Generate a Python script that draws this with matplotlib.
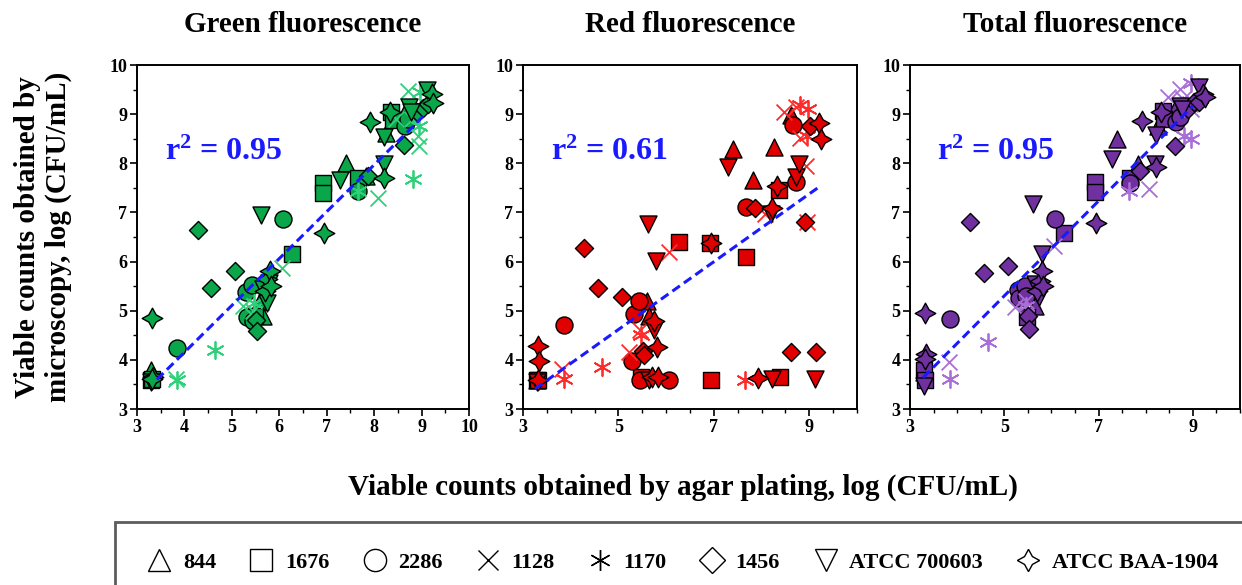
import matplotlib
matplotlib.use("Agg")
import matplotlib.pyplot as plt
from matplotlib.lines import Line2D
from matplotlib.ticker import MultipleLocator, FixedLocator
import numpy as np

plt.rcParams['font.family'] = ['Liberation Serif', 'DejaVu Serif']
plt.rcParams['font.weight'] = 'bold'
plt.rcParams['mathtext.fontset'] = 'custom'
plt.rcParams['mathtext.rm'] = 'Liberation Serif:bold'
plt.rcParams['mathtext.bf'] = 'Liberation Serif:bold'
plt.rcParams['mathtext.it'] = 'Liberation Serif:bold'

# ---------------- data ----------------
strain_labels = ['844', '1676', '2286', '1128', '1170', '1456', 'ATCC 700603', 'ATCC BAA-1904']

# strain 844
x_844 = [3.30, 5.60, 5.65, 7.40, 7.83, 8.25, 8.62]
g_844 = [3.80, 5.20, 4.90, 8.00, 7.75, 8.62, 9.00]
r_844 = [3.60, 5.19, 4.90, 8.30, 7.65, 8.33, 8.98]
t_844 = [3.75, 5.40, 5.10, 8.49, 7.98, 8.75, 9.10]

# strain 1676
x_1676 = [3.30, 3.32, 5.48, 6.27, 6.92, 6.93, 7.67, 8.36, 8.39]
g_1676 = [3.60, 3.62, 4.90, 6.15, 7.60, 7.39, 7.70, 9.05, 8.88]
r_1676 = [3.58, 3.60, 3.65, 6.40, 6.38, 3.58, 6.10, 7.46, 3.66]
t_1676 = [3.80, 3.60, 4.88, 6.59, 7.61, 7.41, 7.71, 9.07, 8.90]

# strain 2286
x_2286 = [3.85, 5.29, 5.32, 5.43, 5.45, 6.07, 7.67, 8.65, 8.72]
g_2286 = [4.25, 5.39, 4.88, 5.53, 4.80, 6.86, 7.43, 8.76, 8.90]
r_2286 = [4.70, 3.97, 4.94, 5.19, 3.58, 3.58, 7.11, 8.78, 7.61]
t_2286 = [4.83, 5.42, 5.25, 5.50, 5.30, 6.87, 7.60, 8.85, 8.95]

# strain 1128
x_1128 = [3.82, 5.23, 5.45, 6.05, 8.08, 8.47, 8.72, 8.80, 8.93, 8.95]
g_1128 = [3.62, 5.09, 5.00, 5.87, 7.29, 8.90, 9.48, 8.90, 8.55, 8.35]
r_1128 = [3.81, 4.15, 4.60, 6.19, 6.97, 9.04, 9.14, 8.52, 7.95, 6.80]
t_1128 = [3.96, 5.07, 5.20, 6.32, 7.48, 9.34, 9.51, 9.30, 9.20, 9.10]

# strain 1170
x_1170 = [3.85, 4.65, 5.47, 7.65, 8.81, 8.95, 8.97]
g_1170 = [3.59, 4.21, 5.15, 7.44, 7.68, 8.75, 9.45]
r_1170 = [3.62, 3.86, 4.50, 3.58, 9.18, 8.55, 9.10]
t_1170 = [3.62, 4.37, 5.10, 7.44, 8.56, 8.49, 9.63]

# strain 1456
x_1456 = [4.28, 4.57, 5.07, 5.51, 5.53, 7.87, 8.62, 8.90, 9.02, 9.14]
g_1456 = [6.65, 5.46, 5.80, 4.82, 4.58, 7.74, 8.37, 9.05, 9.12, 9.20]
r_1456 = [6.28, 5.47, 5.28, 4.19, 4.09, 7.10, 4.17, 6.80, 8.75, 4.17]
t_1456 = [6.81, 5.76, 5.92, 4.90, 4.63, 7.85, 8.36, 9.10, 9.24, 9.25]

# strain ATCC 700603
x_700603 = [3.30, 5.61, 5.65, 5.74, 5.79, 7.29, 8.20, 8.21, 8.73, 8.78, 9.12]
g_700603 = [3.55, 6.95, 5.45, 5.15, 5.56, 7.66, 7.98, 8.54, 9.15, 9.05, 9.50]
r_700603 = [3.55, 6.77, 3.60, 4.60, 6.01, 7.93, 6.97, 3.61, 7.72, 7.99, 3.61]
t_700603 = [3.47, 7.17, 5.55, 5.27, 6.15, 8.09, 7.98, 8.58, 9.17, 9.10, 9.55]

# strain ATCC BAA-1904
x_baa = [3.32, 3.33, 3.31, 5.70, 5.75, 5.80, 5.82, 6.94, 7.92, 8.21, 8.33, 9.21, 9.25]
g_baa = [4.85, 3.65, 3.62, 5.40, 5.65, 5.80, 5.50, 6.58, 8.85, 7.70, 9.05, 9.40, 9.22]
r_baa = [4.29, 3.97, 3.58, 3.65, 4.80, 4.27, 3.65, 6.38, 3.63, 7.08, 7.53, 8.82, 8.50]
t_baa = [4.95, 4.12, 4.02, 5.41, 5.60, 5.81, 5.50, 6.78, 8.87, 7.92, 9.04, 9.41, 9.35]

panel_titles = ['Green fluorescence', 'Red fluorescence', 'Total fluorescence']
r2_values = ['0.95', '0.61', '0.95']
fit_slope = [0.954, 0.690, 0.966]
fit_intercept = [0.337, 1.167, 0.472]
fit_xmin = [3.42, 3.25, 3.28]
fit_xmax = [9.03, 9.25, 9.00]
x_ticks = [[3, 4, 5, 6, 7, 8, 9, 10], [3, 5, 7, 9], [3, 5, 7, 9]]
y_ticks = [3, 4, 5, 6, 7, 8, 9, 10]

# ---------------- styling ----------------
fill_colors = ['#0aa64a', '#e00000', '#7030a0']
line_colors = ['#2fd07a', '#ff2a2a', '#a86fd6']

markers = ['^', 's', 'o', 'x', (6, 2, 0), 'D', 'v', (4, 1, 0)]
msizes = [150, 130, 150, 130, 150, 85, 150, 220]
open_marker = [False, False, False, True, True, False, False, False]

xs_all = [x_844, x_1676, x_2286, x_1128, x_1170, x_1456, x_700603, x_baa]
ys_panels = [
    [g_844, g_1676, g_2286, g_1128, g_1170, g_1456, g_700603, g_baa],
    [r_844, r_1676, r_2286, r_1128, r_1170, r_1456, r_700603, r_baa],
    [t_844, t_1676, t_2286, t_1128, t_1170, t_1456, t_700603, t_baa],
]

W, H = 1242, 585
fig = plt.figure(figsize=(W / 100, H / 100), dpi=100)

ax_px = [(137, 469), (523, 857), (910, 1240)]
top_px, bot_px = 65, 409

for i in range(3):
    l, r = ax_px[i]
    ax = fig.add_axes([l / W, 1 - bot_px / H, (r - l) / W, (bot_px - top_px) / H])
    ax.set_xlim(3, 10)
    ax.set_ylim(3, 10)
    ax.xaxis.set_major_locator(FixedLocator(x_ticks[i]))
    ax.xaxis.set_minor_locator(MultipleLocator(0.5))
    ax.yaxis.set_major_locator(FixedLocator(y_ticks))
    ax.yaxis.set_minor_locator(MultipleLocator(0.5))
    ax.tick_params(which='major', direction='out', length=5, width=1.2, labelsize=13, pad=2)
    ax.tick_params(which='minor', direction='out', length=3, width=1.0)
    for lab in ax.get_xticklabels() + ax.get_yticklabels():
        lab.set_fontweight('bold')
    for sp in ax.spines.values():
        sp.set_linewidth(1.4)

    for k in range(8):
        xs = xs_all[k]
        ys = ys_panels[i][k]
        if open_marker[k]:
            ax.scatter(xs, ys, marker=markers[k], s=msizes[k], c=line_colors[i],
                       linewidths=1.3, zorder=3)
        else:
            ax.scatter(xs, ys, marker=markers[k], s=msizes[k], facecolor=fill_colors[i],
                       edgecolor='black', linewidths=1.0, zorder=3)

    fx = np.array([fit_xmin[i], fit_xmax[i]])
    ax.plot(fx, fit_slope[i] * fx + fit_intercept[i], color='#1a1aff', lw=2.2,
            linestyle=(0, (3, 1.6)), zorder=4)

    ax.text(3.58, 8.22, 'r$^{2}$ = ' + r2_values[i], color='#1a1aff', fontsize=23,
            fontweight='bold', ha='left', va='center', zorder=5)

    fig.text((l + r) / 2 / W, 1 - 25 / H, panel_titles[i], ha='center', va='center',
             fontsize=21, fontweight='bold')

fig.text(683 / W, 1 - 487 / H, 'Viable counts obtained by agar plating, log (CFU/mL)',
         ha='center', va='center', fontsize=21, fontweight='bold')
fig.text(43 / W, 1 - 237 / H, 'Viable counts obtained by\nmicroscopy, log (CFU/mL)',
         ha='center', va='center', rotation=90, fontsize=21, fontweight='bold',
         linespacing=1.15)

handles = []
for k in range(8):
    if open_marker[k]:
        h = Line2D([], [], marker=markers[k], linestyle='none', color='black',
                   markersize=15, markeredgewidth=1.0)
    else:
        h = Line2D([], [], marker=markers[k], linestyle='none', markerfacecolor='white',
                   markeredgecolor='black', markersize=16 if k != 5 else 13,
                   markeredgewidth=1.0)
    handles.append(h)

leg = fig.legend(handles, strain_labels, loc='upper left', ncol=8,
                 bbox_to_anchor=(115 / W, 1 - 522 / H), borderaxespad=0,
                 frameon=True, fancybox=False, borderpad=1.35, handletextpad=0.4,
                 columnspacing=1.4, handlelength=1.3,
                 prop={'family': 'Liberation Serif', 'weight': 'bold', 'size': 16})
leg.get_frame().set_edgecolor('#333333')
leg.get_frame().set_linewidth(2)

fig.savefig('out.png', dpi=100)
